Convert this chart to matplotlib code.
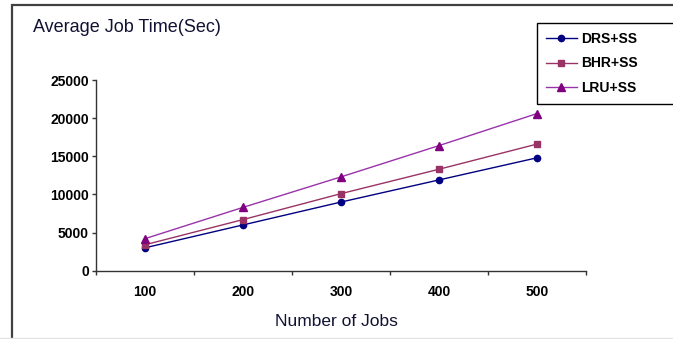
import matplotlib.pyplot as plt
from matplotlib.lines import Line2D
from matplotlib.patches import Rectangle

# average job time per number of jobs, for each replacement strategy
jobs = ["100", "200", "300", "400", "500"]
drs_ss = [3000, 6000, 9000, 11900, 14800]
bhr_ss = [3400, 6700, 10100, 13300, 16600]
lru_ss = [4200, 8300, 12300, 16400, 20600]

plt.rcParams["font.family"] = ["Liberation Sans", "DejaVu Sans"]

W, H = 673, 339
fig = plt.figure(figsize=(W / 100, H / 100), dpi=100)

# outer frame around the whole chart
fig.add_artist(Rectangle((12 / W, -0.05), 1.0, 1 - 5 / H + 0.05,
                         transform=fig.transFigure, fill=False,
                         edgecolor="#404040", linewidth=1.6))
fig.add_artist(Line2D([0, 1], [1 - 338 / H] * 2, transform=fig.transFigure,
                      color="#e4e4e4", linewidth=1))

ax = fig.add_axes([96 / W, 1 - 270.7 / H, 490 / W, 190.7 / H])

x = [i + 0.5 for i in range(len(jobs))]
ax.plot(x, drs_ss, color="#000080", marker="o", markersize=4.5,
        linewidth=1, label="DRS+SS")
ax.plot(x, bhr_ss, color="#993366", marker="s", markersize=4.5,
        linewidth=1, label="BHR+SS")
ax.plot(x, lru_ss, color="#9933aa", marker="^", markersize=6,
        markerfacecolor="#800080", markeredgecolor="#800080",
        linewidth=1, label="LRU+SS")

ax.set_xlim(0, len(jobs))
ax.set_ylim(0, 25000)
ax.set_yticks(range(0, 25001, 5000))
ax.set_yticklabels([str(v) for v in range(0, 25001, 5000)],
                   fontsize=10, fontweight="bold")
ax.set_xticks(range(len(jobs) + 1))
ax.set_xticklabels([])
ax.set_xticks(x, minor=True)
ax.set_xticklabels(jobs, minor=True, fontsize=10, fontweight="bold")
ax.tick_params(axis="x", which="minor", length=0, pad=10)
ax.tick_params(axis="both", which="major", direction="out", length=3,
               width=1, color="#333333", pad=2)

for side in ["top", "right"]:
    ax.spines[side].set_visible(False)
for side in ["left", "bottom"]:
    ax.spines[side].set_color("#333333")
    ax.spines[side].set_linewidth(1)

fig.text(33 / W, 1 - 28 / H, "Average Job Time(Sec)", fontsize=13,
         va="center", ha="left", color="#111133")
fig.text(336 / W, 1 - 322 / H, "Number of Jobs", fontsize=12.5,
         va="center", ha="center", color="#111133")

leg = fig.legend(loc="upper left",
                 bbox_to_anchor=(537 / W, 1 - 99 / H, 0.25, 76 / H),
                 mode="expand", borderaxespad=0, fancybox=False,
                 framealpha=1, edgecolor="black", handlelength=2.2,
                 handletextpad=0.3, labelspacing=0.75, borderpad=0.65,
                 prop={"size": 10, "weight": "bold"})
leg.get_frame().set_linewidth(1)

fig.savefig("out.png", dpi=100)
